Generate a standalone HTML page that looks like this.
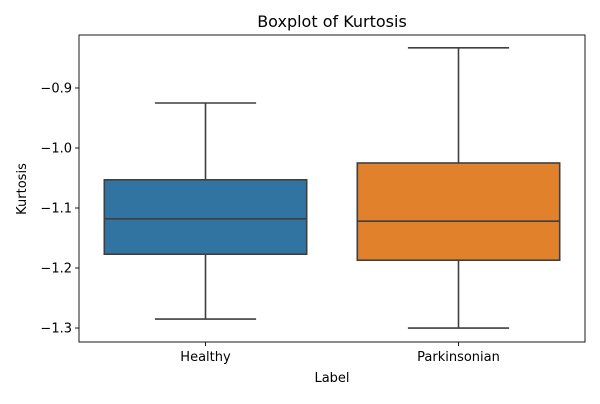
<!DOCTYPE html>
<html><head><meta charset="utf-8"><style>
body{margin:0;background:#fff;font-family:"DejaVu Sans","Liberation Sans",sans-serif;}
</style></head><body>
<svg id="chart" width="600" height="400" xmlns="http://www.w3.org/2000/svg" font-family="DejaVu Sans, Liberation Sans, sans-serif">
<rect width="600" height="400" fill="#fff"/>
<text x="332" y="27" text-anchor="middle" font-size="16">Boxplot of Kurtosis</text>
<text x="332" y="382" text-anchor="middle" font-size="13">Label</text>
<text transform="translate(26,189) rotate(-90)" text-anchor="middle" font-size="13">Kurtosis</text>
<g id="marks"></g>
<g id="axes"></g>
</svg>
<script>
const categories=["Healthy","Parkinsonian"];
const whiskerHigh=[-0.925,-0.833];
const q3=[-1.053,-1.025];
const medians=[-1.118,-1.122];
const q1=[-1.177,-1.187];
const whiskerLow=[-1.285,-1.300];
const colors=["#3274a1","#e1812c"];
const yTicks=[-0.9,-1.0,-1.1,-1.2,-1.3];
const yTickLabels=["−0.9","−1.0","−1.1","−1.2","−1.3"];

const L=79,R=585,T=35,B=342,yMax=-0.8117,yMin=-1.3233;
const y=v=>T+(yMax-v)/(yMax-yMin)*(B-T);
const band=(R-L)/categories.length;
const xc=i=>L+band*(i+0.5);
const NS="http://www.w3.org/2000/svg";
function mk(tag,attrs,parent){const e=document.createElementNS(NS,tag);for(const k in attrs)e.setAttribute(k,attrs[k]);parent.appendChild(e);return e;}
const marks=document.getElementById('marks'),axes=document.getElementById('axes');
const st="#3f3f3f";
categories.forEach((c,i)=>{
  const cx=xc(i),bw=band*0.8,cw=bw/2;
  const g=mk('g',{},marks);
  
  
  mk('line',{x1:cx,x2:cx,y1:y(whiskerHigh[i]),y2:y(q3[i]),stroke:st,'stroke-width':1.6},g);
  mk('line',{x1:cx,x2:cx,y1:y(q1[i]),y2:y(whiskerLow[i]),stroke:st,'stroke-width':1.6},g);
  mk('line',{x1:cx-cw/2,x2:cx+cw/2,y1:y(whiskerHigh[i]),y2:y(whiskerHigh[i]),stroke:st,'stroke-width':1.6},g);
  mk('line',{x1:cx-cw/2,x2:cx+cw/2,y1:y(whiskerLow[i]),y2:y(whiskerLow[i]),stroke:st,'stroke-width':1.6},g);
  mk('rect',{x:cx-bw/2,y:y(q3[i]),width:bw,height:y(q1[i])-y(q3[i]),fill:colors[i],stroke:st,'stroke-width':1.6},g);
  mk('line',{x1:cx-bw/2,x2:cx+bw/2,y1:y(medians[i]),y2:y(medians[i]),stroke:st,'stroke-width':1.6},g);
  mk('line',{x1:cx,x2:cx,y1:B,y2:B+4,stroke:'#000','stroke-width':0.9},axes);
  const t=mk('text',{x:cx,y:B+19,'text-anchor':'middle','font-size':13},axes);
  t.textContent=c;
  
  
});
yTicks.forEach((v,i)=>{
  mk('line',{x1:L-4,x2:L,y1:y(v),y2:y(v),stroke:'#000','stroke-width':0.9},axes);
  const t=mk('text',{x:L-7,y:y(v)+4.5,'text-anchor':'end','font-size':13},axes);
  t.textContent=yTickLabels[i];
  
  
});
const f=mk('rect',{x:L,y:T,width:R-L,height:B-T,fill:'none',stroke:'#000','stroke-width':0.9},axes);


</script>
</body></html>
